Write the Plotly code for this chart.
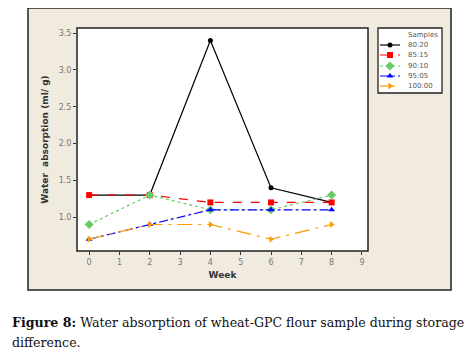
import plotly.graph_objects as go

weeks = [0, 2, 4, 6, 8]
s80_20 = [1.3, 1.3, 3.4, 1.4, 1.2]
s85_15 = [1.3, 1.3, 1.2, 1.2, 1.2]
s90_10 = [0.9, 1.3, 1.1, 1.1, 1.3]
s95_05 = [0.7, 0.9, 1.1, 1.1, 1.1]
s100_00 = [0.7, 0.9, 0.9, 0.7, 0.9]
names = ["80:20", "85:15", "90:10", "95:05", "100:00"]
x_ticks = list(range(0, 10))
y_ticks = [1.0, 1.5, 2.0, 2.5, 3.0, 3.5]

styles = [
    ("black", "solid", "circle", 5),
    ("#FF0000", "dash", "square", 6),
    ("#66CC66", "dot", "diamond", 7),
    ("#0000FF", "dashdot", "triangle-up", 6),
    ("#FF9900", "longdashdot", "triangle-right", 6),
]

W, H = 476, 356
OFF = 8  # page body margin
# screen-pixel layout (reference coordinates)
PL, PR, PT, PB = 77, 368, 28, 251      # plot area
AR = 445                               # right edge of paper area
LL, LR, LT, LB = 378, 442, 28, 93      # legend box
pw = AR - PL
ph = PB - PT

def px(x):
    return (x - PL) / pw

def py(y):
    return (PB - y) / ph

fig = go.Figure()
for name, ys, (c, d, sym, sz) in zip(names, [s80_20, s85_15, s90_10, s95_05, s100_00], styles):
    fig.add_trace(go.Scatter(x=weeks, y=ys, name=name, mode="lines+markers",
                             line=dict(color=c, dash=d, width=1.2),
                             marker=dict(color=c, symbol=sym, size=sz),
                             showlegend=False, xaxis="x", yaxis="y"))

# custom compact legend drawn on an auxiliary axis pair
leg_w, leg_h = LR - LL, LB - LT
entry_y = [17, 27, 38, 48, 58]
for name, ey, (c, d, sym, sz) in zip(names, entry_y, styles):
    fig.add_trace(go.Scatter(x=[2, 22], y=[ey, ey], mode="lines", line=dict(color=c, dash=d, width=1.2),
                             showlegend=False, hoverinfo="skip", xaxis="x2", yaxis="y2"))
    fig.add_trace(go.Scatter(x=[12], y=[ey], mode="markers", marker=dict(color=c, symbol=sym, size=sz),
                             showlegend=False, hoverinfo="skip", xaxis="x2", yaxis="y2"))
    fig.add_annotation(xref="x2", yref="y2", x=28, y=ey, text=name, showarrow=False,
                       xanchor="left", yanchor="middle", font=dict(size=7, color="#555"))
fig.add_annotation(xref="x2", yref="y2", x=28, y=7, text="Samples", showarrow=False,
                   xanchor="left", yanchor="middle", font=dict(size=7, color="#555"))

fig.add_shape(type="rect", xref="paper", yref="paper", x0=px(28), x1=px(451), y0=py(290), y1=py(8),
              fillcolor="#F0EADF", line=dict(color="#222", width=1.5), layer="below")
fig.add_shape(type="rect", xref="paper", yref="paper", x0=0, x1=px(PR), y0=0, y1=1,
              fillcolor="white", line=dict(color="#222", width=1.5), layer="below")
fig.add_shape(type="rect", xref="paper", yref="paper", x0=px(LL), x1=px(LR), y0=py(LB), y1=py(LT),
              fillcolor="white", line=dict(color="#222", width=1.3), layer="below")

fig.update_layout(
    width=W, height=H,
    margin=dict(l=PL - OFF, r=W - (AR - OFF), t=PT - OFF, b=H - (PB - OFF)),
    paper_bgcolor="rgba(0,0,0,0)", plot_bgcolor="rgba(0,0,0,0)",
    font=dict(family="DejaVu Sans", size=8, color="#666"),
    showlegend=False,
    xaxis=dict(domain=[0, px(PR)], range=[-0.4, 9.2], tickvals=x_ticks, ticks="outside", ticklen=3,
               tickcolor="#333", showgrid=False, zeroline=False, showline=False,
               tickfont=dict(size=8, color="#777"),
               title=dict(text="<b>Week</b>", font=dict(size=9, color="#333"), standoff=6)),
    yaxis=dict(range=[0.54, 3.57], tickvals=y_ticks, tickformat=".1f", ticks="outside", ticklen=3,
               tickcolor="#333", showgrid=False, zeroline=False, showline=False,
               tickfont=dict(size=8, color="#777"),
               title=dict(text="<b>Water  absorption (ml/ g)</b>", font=dict(size=9, color="#333"), standoff=8)),
    xaxis2=dict(domain=[px(LL), px(LR)], range=[0, leg_w], visible=False, anchor="y2"),
    yaxis2=dict(domain=[py(LB), 1], range=[leg_h, 0], visible=False, anchor="x2"),
)

fig.add_annotation(xref="paper", yref="paper", x=px(10), y=py(322), xanchor="left", yanchor="middle",
                   showarrow=False, align="left",
                   text="<b>Figure 8:</b> Water absorption of wheat-GPC flour sample during storage",
                   font=dict(family="DejaVu Serif", size=12.6, color="#111"))
fig.add_annotation(xref="paper", yref="paper", x=px(10), y=py(342), xanchor="left", yanchor="middle",
                   showarrow=False, align="left", text="difference.",
                   font=dict(family="DejaVu Serif", size=12.6, color="#111"))

fig.write_html("out.html")
